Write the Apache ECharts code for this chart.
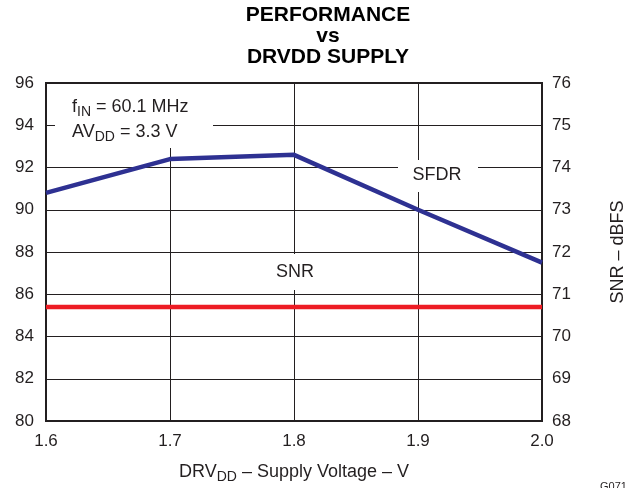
<!DOCTYPE html>
<html>
<head>
<meta charset="utf-8">
<script src="https://cdn.jsdelivr.net/npm/echarts@6/dist/echarts.min.js"></script>
<style>
  html, body { margin: 0; padding: 0; background: #fff; }
  #chart { width: 637px; height: 488px; }
</style>
</head>
<body>
<div id="chart"></div>
<script>
// Supply voltage sweep (V)
const drvdd = ['1.6', '1.7', '1.8', '1.9', '2.0'];
// SFDR (dBc), left axis
const sfdr = [90.8, 92.4, 92.6, 90.0, 87.5];
// SNR (dBFS), right axis
const snr = [70.7, 70.7, 70.7, 70.7, 70.7];

const FONT = '"Liberation Sans", Arial, Helvetica, sans-serif';
const INK = '#231f20';
const chart = echarts.init(document.getElementById('chart'), null, { renderer: 'canvas' });

chart.setOption({
  animation: false,
  backgroundColor: '#fff',
  textStyle: { fontFamily: FONT, color: INK },
  grid: { left: 46, right: 95, top: 83, bottom: 67, containLabel: false,
          outerBoundsMode: 'none',
          show: true, borderColor: INK, borderWidth: 2 },
  xAxis: {
    type: 'category',
    data: drvdd,
    boundaryGap: false,
    axisLine: { show: true, lineStyle: { color: INK, width: 2 } },
    axisTick: { show: false },
    axisLabel: { fontSize: 17, color: INK, margin: 12, fontFamily: FONT },
    splitLine: { show: true, lineStyle: { color: INK, width: 1 } },
    name: '{n|DRV}{s|DD}{n| – Supply Voltage – V}',
    nameLocation: 'middle',
    nameGap: 40,
    nameTextStyle: {
      rich: {
        n: { fontSize: 18, fontFamily: FONT, color: INK },
        s: { fontSize: 14, fontFamily: FONT, color: INK, padding: [9, 0, 0, 0] }
      }
    }
  },
  yAxis: [
    {
      type: 'value', min: 80, max: 96, interval: 2,
      axisLine: { show: true, lineStyle: { color: INK, width: 2 } },
      axisTick: { show: false },
      axisLabel: { fontSize: 17, color: INK, margin: 12, fontFamily: FONT },
      splitLine: { show: true, lineStyle: { color: INK, width: 1 } }
    },
    {
      type: 'value', min: 68, max: 76, interval: 1, position: 'right',
      axisLine: { show: true, lineStyle: { color: INK, width: 2 } },
      axisTick: { show: false },
      axisLabel: { fontSize: 17, color: INK, margin: 10, fontFamily: FONT },
      splitLine: { show: false },
      name: 'SNR – dBFS',
      nameLocation: 'middle',
      nameRotate: 90,
      nameGap: 67,
      nameTextStyle: { fontSize: 18, color: INK, fontFamily: FONT }
    }
  ],
  series: [
    {
      name: 'SFDR', type: 'line', yAxisIndex: 0, data: sfdr,
      symbol: 'none', z: 5,
      lineStyle: { color: '#2e3192', width: 4.5 }
    },
    {
      name: 'SNR', type: 'line', yAxisIndex: 1, data: snr,
      symbol: 'none', z: 5,
      lineStyle: { color: '#ed1c24', width: 4.5 }
    }
  ],
  graphic: [
    // Title
    { type: 'text', x: 328, y: 5, z: 10,
      style: { text: 'PERFORMANCE\nvs\nDRVDD SUPPLY', textAlign: 'center',
               font: 'bold 21px ' + FONT, fill: '#000', lineHeight: 21 } },
    // Test-condition box
    { type: 'rect', shape: { x: 55, y: 84, width: 158, height: 64 }, z: 3,
      style: { fill: '#fff' } },
    { type: 'text', left: 72, top: 96, z: 4,
      style: {
        text: '{n|f}{s|IN}{n| = 60.1 MHz}\n{n|AV}{s|DD}{n| = 3.3 V}',
        rich: {
          n: { fontSize: 18, fontFamily: FONT, fill: INK, lineHeight: 25 },
          s: { fontSize: 14, fontFamily: FONT, fill: INK, lineHeight: 25, padding: [9, 0, 0, 0] }
        }
      } },
    // Curve labels
    { type: 'rect', shape: { x: 398, y: 160, width: 80, height: 32 }, z: 3,
      style: { fill: '#fff' } },
    { type: 'text', x: 437, y: 175, z: 4,
      style: { text: 'SFDR', textAlign: 'center', textVerticalAlign: 'middle',
               font: '18px ' + FONT, fill: INK } },
    { type: 'rect', shape: { x: 270, y: 254, width: 50, height: 36 }, z: 3,
      style: { fill: '#fff' } },
    { type: 'text', x: 295, y: 272, z: 4,
      style: { text: 'SNR', textAlign: 'center', textVerticalAlign: 'middle',
               font: '18px ' + FONT, fill: INK } },
    // Figure code
    { type: 'text', x: 600, y: 481, z: 4,
      style: { text: 'G071', font: '11px ' + FONT, fill: INK } }
  ]
});
</script>
</body>
</html>
